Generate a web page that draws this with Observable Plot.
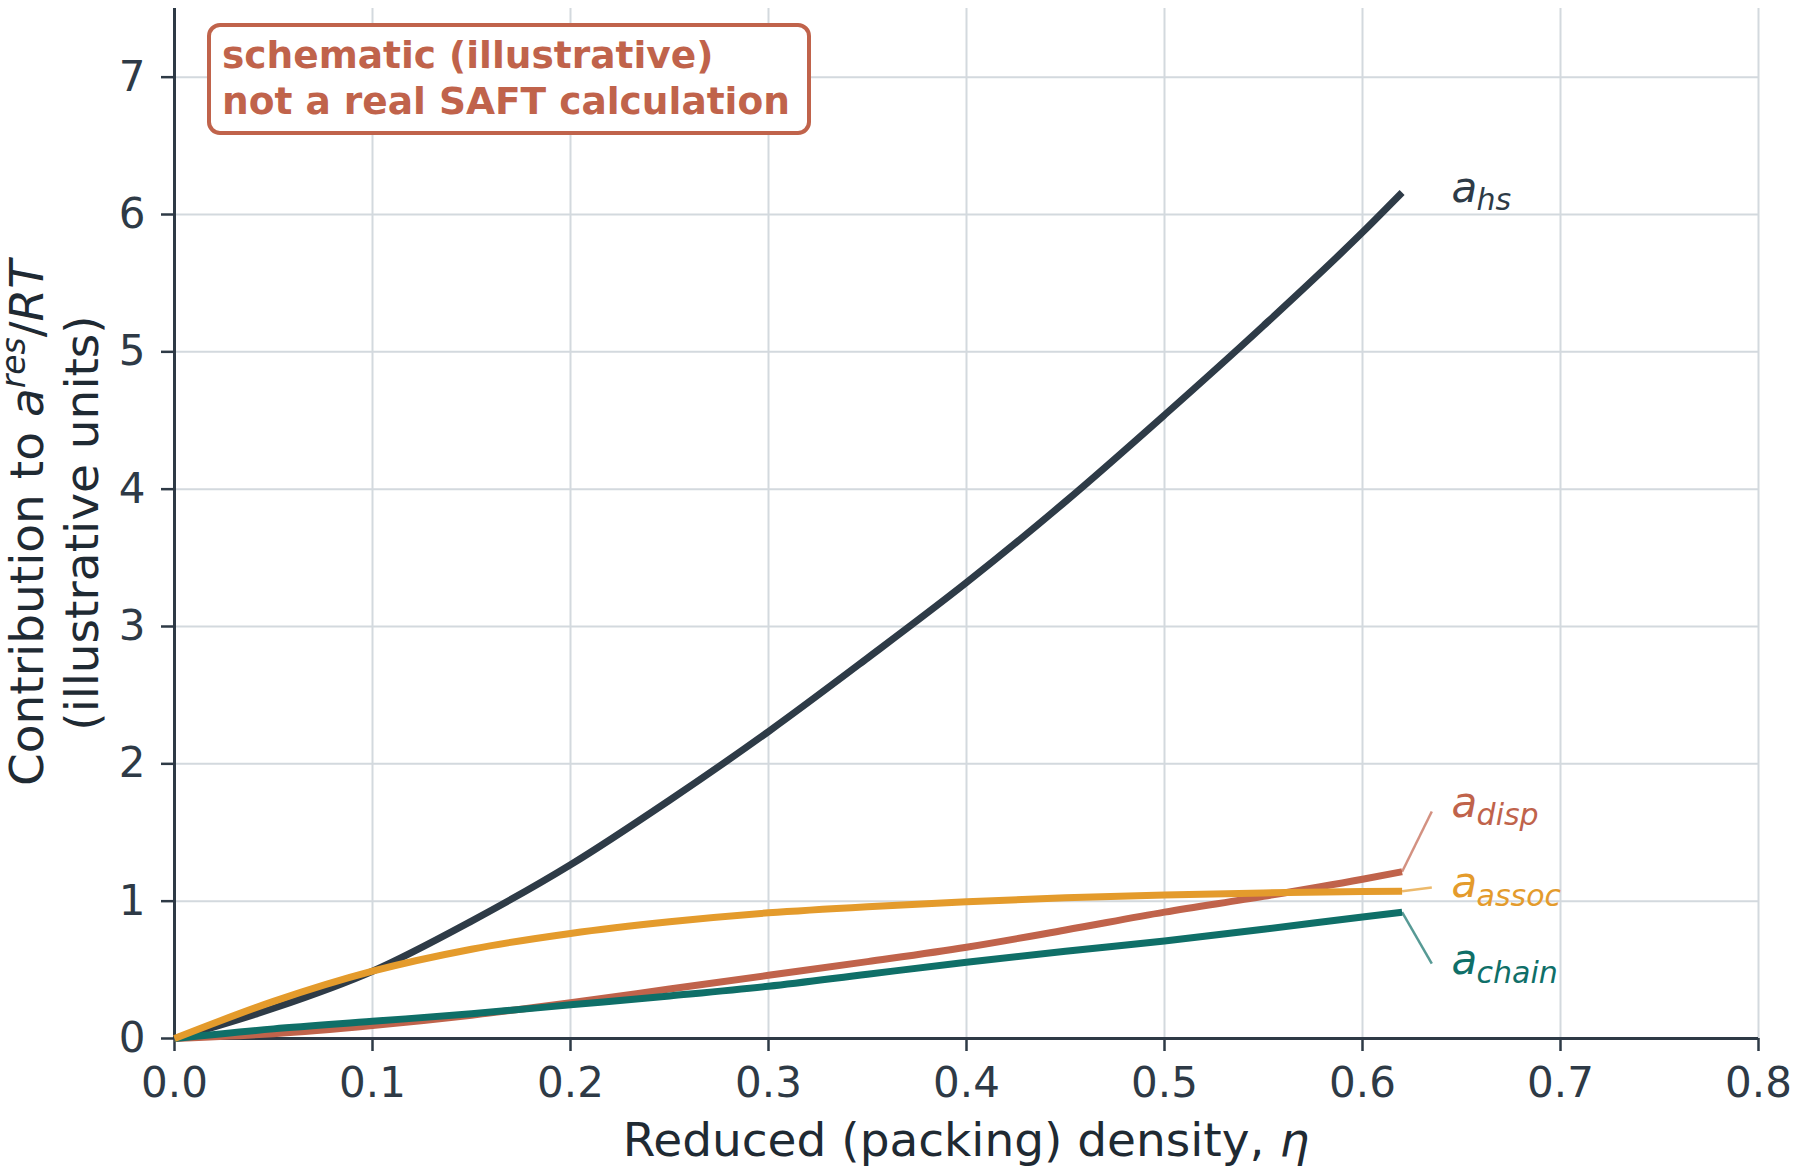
<!DOCTYPE html>
<html><head><meta charset="utf-8">
<script src="https://cdn.jsdelivr.net/npm/d3@7"></script>
<script src="https://cdn.jsdelivr.net/npm/@observablehq/plot@0.6"></script>
<style>
html,body{margin:0;padding:0;background:#fff;}
#chart svg{display:block;}
</style></head><body><div id="chart"></div>
<script>
// ---- data ----
const eta    = [0, 0.05, 0.1, 0.15, 0.2, 0.25, 0.3, 0.35, 0.4, 0.45, 0.5, 0.55, 0.6, 0.62];
const aHs    = [0, 0.22, 0.49, 0.855, 1.265, 1.735, 2.235, 2.77, 3.32, 3.91, 4.54, 5.19, 5.87, 6.16];
const aDisp  = [0, 0.035, 0.095, 0.17, 0.26, 0.36, 0.46, 0.56, 0.665, 0.79, 0.92, 1.035, 1.16, 1.214];
const aAssoc = [0, 0.27, 0.49, 0.65, 0.765, 0.85, 0.915, 0.96, 0.995, 1.025, 1.045, 1.06, 1.07, 1.072];
const aChain = [0, 0.07, 0.125, 0.18, 0.245, 0.31, 0.38, 0.468, 0.555, 0.635, 0.71, 0.795, 0.885, 0.92];

const seriesNames  = ["hs", "disp", "chain", "assoc"];
const seriesValues = [aHs, aDisp, aChain, aAssoc];
const seriesColors = ["#2e3b47", "#c0634b", "#0f6f68", "#e49b2c"];
const labelX  = [0.645, 0.645, 0.645, 0.645];
const labelY  = [6.19, 1.71, 0.565, 1.125];
const leaderX = [null, 0.635, 0.635, 0.635];
const leaderY = [null, 1.653, 0.546, 1.10];

const xTicks = [0, 0.1, 0.2, 0.3, 0.4, 0.5, 0.6, 0.7, 0.8];
const yTicks = [0, 1, 2, 3, 4, 5, 6, 7];
const xDomain = [0, 0.8];
const yDomain = [0, 7.5];

const noteLines = ["schematic (illustrative)", "not a real SAFT calculation"];
const xLabelMain = "Reduced (packing) density, ";
const xLabelSym = "η";

// ---- derived tables ----
const lineRows = [];
seriesNames.forEach((s, i) => eta.forEach((x, j) => lineRows.push({series: s, x, y: seriesValues[i][j], color: seriesColors[i]})));
const labelRows = seriesNames.map((s, i) => ({
  series: s, color: seriesColors[i],
  x: labelX[i], y: labelY[i],
  x1: eta[eta.length - 1], y1: seriesValues[i][eta.length - 1],
  x2: leaderX[i], y2: leaderY[i]
}));
const leaderRows = labelRows.filter(d => d.x2 != null);

const ink = "#2e3a46";
const W = 1800, H = 1176;
const mL = 174, mR = 42, mT = 8, mB = 138;

const plot = Plot.plot({
  width: W, height: H,
  marginLeft: mL, marginRight: mR, marginTop: mT, marginBottom: mB,
  style: {fontFamily: "'DejaVu Sans', sans-serif", fontSize: "42px", background: "#fff", color: ink},
  x: {domain: xDomain},
  y: {domain: yDomain},
  marks: [
    Plot.gridX(xTicks.slice(1), {stroke: "#d3d9de", strokeOpacity: 1, strokeWidth: 2}),
    Plot.gridY(yTicks.slice(1), {stroke: "#d3d9de", strokeOpacity: 1, strokeWidth: 2}),
    Plot.axisX(xTicks, {tickFormat: d3.format(".1f"), tickSize: 13, tickPadding: 16, label: null, stroke: ink, strokeWidth: 2.5, fill: ink, fontSize: 42}),
    Plot.axisY(yTicks, {tickFormat: d3.format("d"), tickSize: 13, tickPadding: 16, label: null, stroke: ink, strokeWidth: 2.5, fill: ink, fontSize: 42}),
    Plot.ruleX([0], {stroke: ink, strokeWidth: 3}),
    Plot.ruleY([0], {stroke: ink, strokeWidth: 3}),
    Plot.line(lineRows, {x: "x", y: "y", z: "series", stroke: "color", strokeWidth: 7, curve: "monotone-x", strokeLinecap: "butt", strokeLinejoin: "round"}),
    Plot.link(leaderRows, {x1: "x1", y1: "y1", x2: "x2", y2: "y2", stroke: "color", strokeWidth: 2.5, strokeOpacity: 0.7}),
    Plot.text(labelRows, {x: "x", y: "y", text: () => "a", fill: "color", fontSize: 42, fontStyle: "italic", textAnchor: "start"}),
    Plot.text(labelRows, {x: "x", y: "y", text: "series", fill: "color", fontSize: 30, fontStyle: "italic", textAnchor: "start", dx: 25, dy: 12})
  ]
});

const svg = d3.select(plot);

// y-axis label (two lines, rotated)
const cy = mT + (H - mT - mB) / 2;
const yl1 = svg.append("text").attr("transform", `translate(43,${cy}) rotate(-90)`)
  .attr("text-anchor", "middle").attr("font-size", 47).attr("fill", "#1f2a33");
yl1.append("tspan").text("Contribution to ");
yl1.append("tspan").attr("font-style", "italic").text("a");
yl1.append("tspan").attr("font-style", "italic").attr("font-size", 33).attr("dy", -18).text("res");
yl1.append("tspan").attr("dy", 18).text("/");
yl1.append("tspan").attr("font-style", "italic").text("RT");
svg.append("text").attr("transform", `translate(98,${cy}) rotate(-90)`)
  .attr("text-anchor", "middle").attr("font-size", 47).attr("fill", "#1f2a33")
  .text("(illustrative units)");

// x-axis label
const xl = svg.append("text").attr("x", mL + (W - mL - mR) / 2).attr("y", 1156)
  .attr("text-anchor", "middle").attr("font-size", 47).attr("fill", "#1f2a33");
xl.append("tspan").text(xLabelMain);
xl.append("tspan").attr("font-style", "italic").text(xLabelSym);

// annotation box
const noteColor = "#c0634b";
svg.append("rect").attr("x", 209).attr("y", 25).attr("width", 600).attr("height", 108)
  .attr("rx", 11).attr("fill", "#fff").attr("stroke", noteColor).attr("stroke-width", 4);
noteLines.forEach((t, i) => {
  svg.append("text").attr("x", 222).attr("y", 68 + i * 46).attr("text-anchor", "start")
    .attr("font-size", 37.5).attr("font-weight", "bold").attr("fill", noteColor).text(t);
});

document.getElementById("chart").appendChild(plot);
</script>
</body></html>
